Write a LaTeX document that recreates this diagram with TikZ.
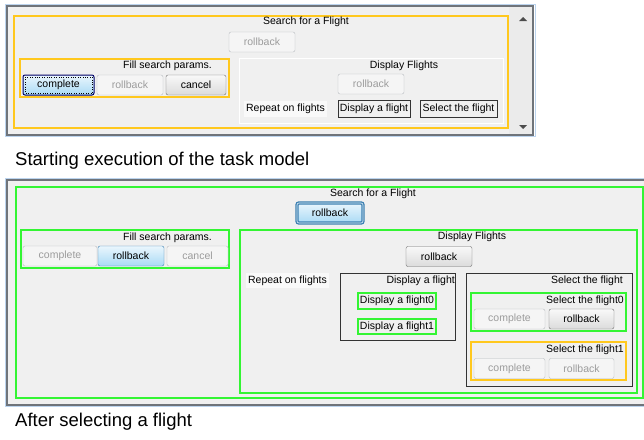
\documentclass[tikz,border=0pt]{standalone}
\usepackage{fontspec}
\setmainfont{Liberation Sans}
\definecolor{winbg}{HTML}{F0F0F0}
\definecolor{winedge}{HTML}{6F747A}
\definecolor{winglow}{HTML}{BCD4EE}
\definecolor{ylw}{HTML}{FFC81E}
\definecolor{grn}{HTML}{33F533}
\definecolor{offtxt}{HTML}{9C9C9C}
\definecolor{offedge}{HTML}{B8BCC0}
\definecolor{btnedge}{HTML}{707070}
\definecolor{blueedge}{HTML}{3C7FB1}
\definecolor{bluetop}{HTML}{EAF6FD}
\definecolor{bluebot}{HTML}{A9DAF5}

\begin{document}
\begin{tikzpicture}
[
    x=1pt, y=-1pt,
    ui/.style={font=\fontsize{10.5}{12}\selectfont, inner sep=0pt},
    btn/.style={ui, rounded corners=2pt, draw=btnedge, top color=white!95!gray, bottom color=black!14,
        minimum height=20pt, minimum width=#1},
    btnoff/.style={ui, rounded corners=2pt, draw=offedge, fill=black!4, text=offtxt,
        minimum height=20pt, minimum width=#1},
    btnon/.style={ui, rounded corners=2pt, draw=blueedge, top color=bluetop, bottom color=bluebot,
        minimum height=20pt, minimum width=#1},
    yframe/.style={draw=ylw, line width=1.3pt},
    gframe/.style={draw=grn, line width=1.3pt},
    kbox/.style={ui, draw=black!80, line width=1pt},
    caption/.style={font=\fontsize{18.5}{20}\selectfont, inner sep=0pt, anchor=base west},
]
\useasboundingbox (0,0) rectangle (644,439);
\fill[white] (0,0) rectangle (644,439);

% window 1: starting execution
\fill[winbg] (7,6) rectangle (533,135);
\draw[winglow, line width=1pt] (5.5,4.5) rectangle (535,136.5);
\draw[winedge, line width=1.5pt] (7,6) rectangle (533,135);
\fill[black!8] (509,7) rectangle (532,134);
\fill[black!70] (519,21) -- (527,21) -- (523,17) -- cycle;
\fill[black!70] (519,125) -- (527,125) -- (523,129) -- cycle;

\draw[yframe] (14,16) rectangle (508,128);
\node[ui] (srchA) at (306,22) {Search for a Flight};
\node[btnoff=66pt] (srchRbA) at (262,42) {rollback};

\draw[yframe] (20,59) rectangle (229,97);
\node[ui, anchor=east] (fillA) at (212,66) {Fill search params.};
\node[btnon=71pt, draw=blue!40!black, line width=1pt] (fillCpA) at (58.5,85) {complete};
\draw[dotted, black] ([shift={(2.5pt,-2.5pt)}]fillCpA.north west) rectangle ([shift={(-2.5pt,2.5pt)}]fillCpA.south east);
\node[btnoff=66pt] (fillRbA) at (130,85) {rollback};
\node[btn=60pt] (fillCnA) at (196,85) {cancel};

\draw[white, line width=1pt] (239,58) rectangle (503,123);
\node[ui] (dispA) at (404,66) {Display Flights};
\node[btnoff=66pt] (dispRbA) at (371,84) {rollback};
\node[ui, fill=white!60!winbg, minimum width=83pt, minimum height=16pt] (repA) at (285.5,109) {Repeat on flights};
\node[kbox, minimum width=72pt, minimum height=17pt] (dafA) at (374,108.5) {Display a flight};
\node[kbox, minimum width=77pt, minimum height=17pt] (stfA) at (458.5,108.5) {Select the flight};

\node[caption] (capA) at (15,165) {Starting execution of the task model};

% window 2: after selecting a flight
\fill[winbg] (7,180) rectangle (646,405);
\draw[winglow, line width=1pt] (5.5,178.5) rectangle (648,406.5);
\draw[winedge, line width=1.5pt] (7,180) rectangle (647,405);

\draw[gframe] (16,187) rectangle (643,398);
\node[ui] (srchB) at (373,194) {Search for a Flight};
\node[btnon=66pt, line width=1.4pt, double=bluetop] (srchRbB) at (330,213) {rollback};

\draw[gframe] (21,230) rectangle (229,268);
\node[ui, anchor=east] (fillB) at (212,238) {Fill search params.};
\node[btnoff=74pt] (fillCpB) at (60,256) {complete};
\node[btnon=66pt] (fillRbB) at (131,256) {rollback};
\node[btnoff=61pt] (fillCnB) at (197.5,256) {cancel};

\draw[gframe] (240,230) rectangle (637,393);
\node[ui] (dispB) at (472,237) {Display Flights};
\node[btn=66pt] (dispRbB) at (439,256.5) {rollback};
\node[ui, fill=white!60!winbg, minimum width=83pt, minimum height=15pt] (repB) at (287.5,280.5) {Repeat on flights};

\draw[black!80, line width=1pt] (340,273) rectangle (455,340);
\node[ui, anchor=east] (dafB) at (455,281) {Display a flight};
\node[ui, gframe, minimum width=78pt, minimum height=16pt] (daf0) at (397,301) {Display a flight0};
\node[ui, gframe, minimum width=78pt, minimum height=15pt] (daf1) at (397,326.5) {Display a flight1};

\draw[black!80, line width=1pt] (466,273) rectangle (632,386);
\node[ui, anchor=east] (stfB) at (623,281) {Select the flight};

\draw[gframe] (471,293) rectangle (626,331);
\node[ui, anchor=east] (stf0) at (624,301) {Select the flight0};
\node[btnoff=71pt] (stf0Cp) at (509.5,319) {complete};
\node[btn=65pt] (stf0Rb) at (581.5,319) {rollback};

\draw[yframe] (471,342) rectangle (626,380);
\node[ui, anchor=east] (stf1) at (624,350) {Select the flight1};
\node[btnoff=71pt] (stf1Cp) at (509.5,368.5) {complete};
\node[btnoff=65pt] (stf1Rb) at (581.5,368.5) {rollback};

\node[caption] (capB) at (15,426) {After selecting a flight};
\end{tikzpicture}
\end{document}
